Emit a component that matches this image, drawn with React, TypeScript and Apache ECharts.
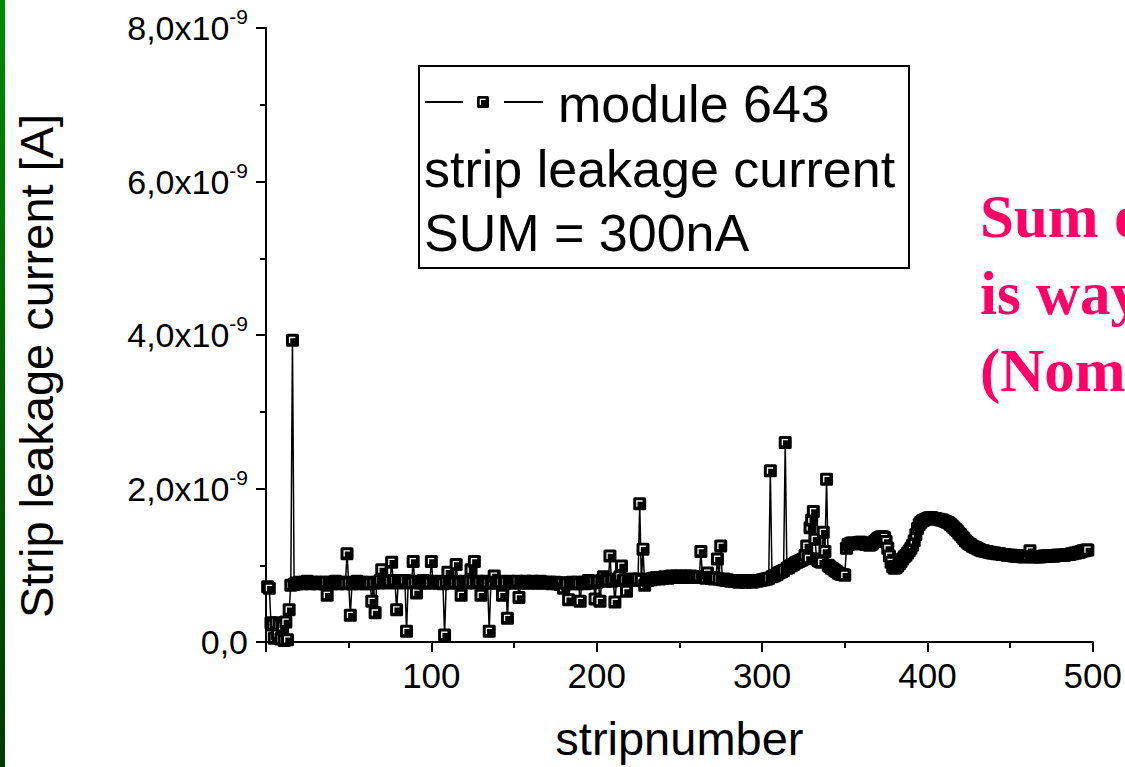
import React, { useEffect, useRef } from "react";
import * as echarts from "echarts";

// Strip leakage current of module 643, in units of 1e-9 A, strips 1..497
const currentNA: number[] = [
  0.72, 0.70, 0.25, 0.22, 0.05, 0.25, 0.10, 0.22, 0.04, 0.20,
  0.02, 0.26, 0.03, 0.42, 0.74, 3.93, 0.75, 0.77, 0.76, 0.78,
  0.77, 0.76, 0.78, 0.77, 0.79, 0.77, 0.76, 0.78, 0.77, 0.78,
  0.76, 0.77, 0.78, 0.77, 0.76, 0.78, 0.61, 0.77, 0.78, 0.76,
  0.77, 0.79, 0.77, 0.76, 0.78, 0.77, 0.78, 0.76, 1.15, 0.77,
  0.35, 0.76, 0.78, 0.77, 0.79, 0.76, 0.77, 0.78, 0.77, 0.76,
  0.78, 0.77, 0.76, 0.53, 0.77, 0.38, 0.78, 0.77, 0.80, 0.94,
  0.79, 0.78, 0.80, 0.77, 0.79, 1.04, 0.78, 0.80, 0.42, 0.78,
  0.77, 0.79, 0.78, 0.80, 0.14, 0.78, 0.79, 0.77, 1.05, 0.78,
  0.64, 0.79, 0.77, 0.78, 0.80, 0.77, 0.78, 0.79, 0.77, 1.05,
  0.78, 0.77, 0.79, 0.78, 0.77, 0.78, 0.76, 0.09, 0.78, 0.91,
  0.77, 0.78, 0.79, 0.77, 1.01, 0.78, 0.77, 0.61, 0.78, 0.79,
  0.77, 0.78, 0.79, 0.94, 0.78, 1.05, 0.77, 0.79, 0.78, 0.61,
  0.77, 0.78, 0.79, 0.77, 0.14, 0.78, 0.77, 0.86, 0.78, 0.77,
  0.79, 0.78, 0.61, 0.77, 0.78, 0.31, 0.79, 0.77, 0.78, 0.77,
  0.78, 0.79, 0.58, 0.77, 0.78, 0.77, 0.79, 0.78, 0.77, 0.78,
  0.79, 0.77, 0.78, 0.77, 0.78, 0.79, 0.77, 0.78, 0.77, 0.78,
  0.77, 0.78, 0.76, 0.77, 0.78, 0.76, 0.77, 0.75, 0.77, 0.70,
  0.77, 0.76, 0.55, 0.77, 0.78, 0.76, 0.77, 0.78, 0.76, 0.53,
  0.77, 0.78, 0.76, 0.77, 0.80, 0.78, 0.77, 0.79, 0.56, 0.78,
  0.79, 0.53, 0.80, 0.85, 0.79, 0.82, 0.80, 1.12, 0.79, 0.81,
  0.52, 0.80, 0.82, 0.85, 0.99, 0.80, 0.81, 0.66, 0.81, 0.80,
  0.82, 0.80, 0.81, 0.80, 0.82, 1.80, 0.80, 1.21, 0.74, 0.81,
  0.80, 0.82, 0.81, 0.83, 0.82, 0.84, 0.83, 0.82, 0.84, 0.83,
  0.85, 0.84, 0.83, 0.85, 0.86, 0.84, 0.85, 0.86, 0.84, 0.85,
  0.86, 0.85, 0.84, 0.86, 0.85, 0.84, 0.86, 0.85, 0.84, 0.85,
  0.84, 0.85, 1.18, 0.84, 0.85, 0.83, 0.90, 0.84, 0.83, 0.84,
  0.82, 0.83, 1.08, 0.82, 1.25, 0.81, 0.82, 0.80, 0.81, 0.80,
  0.79, 0.80, 0.79, 0.80, 0.79, 0.78, 0.79, 0.80, 0.79, 0.78,
  0.79, 0.80, 0.79, 0.78, 0.79, 0.80, 0.79, 0.80, 0.80, 0.81,
  0.81, 0.82, 0.82, 0.83, 2.23, 0.85, 0.86, 0.87, 0.88, 0.90,
  0.91, 0.92, 0.93, 2.60, 0.96, 0.97, 0.99, 1.00, 1.01, 1.03,
  1.04, 1.05, 1.06, 1.07, 1.08, 1.13, 1.25, 1.09, 1.49, 1.59,
  1.70, 1.34, 1.08, 1.06, 1.05, 1.04, 1.43, 1.18, 2.12, 1.00,
  0.98, 0.96, 0.95, 0.93, 0.92, 0.90, 0.89, 0.88, 0.88, 0.87,
  1.22, 1.27, 1.28, 1.29, 1.29, 1.28, 1.28, 1.29, 1.30, 1.30,
  1.29, 1.28, 1.27, 1.27, 1.26, 1.27, 1.29, 1.31, 1.33, 1.35,
  1.36, 1.37, 1.37, 1.36, 1.31, 1.22, 1.12, 1.04, 0.98, 0.96,
  0.97, 0.99, 1.02, 1.05, 1.08, 1.11, 1.13, 1.16, 1.19, 1.22,
  1.26, 1.32, 1.40, 1.48, 1.53, 1.56, 1.58, 1.59, 1.60, 1.61,
  1.62, 1.62, 1.62, 1.61, 1.61, 1.60, 1.60, 1.59, 1.59, 1.58,
  1.57, 1.56, 1.55, 1.53, 1.51, 1.49, 1.47, 1.45, 1.42, 1.40,
  1.37, 1.35, 1.32, 1.30, 1.28, 1.27, 1.25, 1.24, 1.23, 1.22,
  1.21, 1.20, 1.19, 1.19, 1.18, 1.18, 1.17, 1.17, 1.16, 1.16,
  1.16, 1.15, 1.15, 1.15, 1.14, 1.14, 1.14, 1.13, 1.13, 1.13,
  1.13, 1.12, 1.12, 1.12, 1.12, 1.12, 1.11, 1.11, 1.11, 1.12,
  1.12, 1.19, 1.11, 1.11, 1.11, 1.11, 1.11, 1.11, 1.11, 1.12,
  1.12, 1.12, 1.12, 1.12, 1.12, 1.12, 1.12, 1.13, 1.13, 1.13,
  1.13, 1.13, 1.13, 1.14, 1.14, 1.14, 1.15, 1.15, 1.16, 1.16,
  1.17, 1.17, 1.18, 1.19, 1.19, 1.20, 1.20,
];

const seriesName = "module 643";
const legendLines = ["strip leakage current", "SUM = 300nA"];
const noteLines = ["Sum of", "is way", "(Nom"];
const xTicks = { min: 0, max: 500, interval: 100 };
const yTicks = { min: 0, max: 8, interval: 2 };
const xTitle = "stripnumber";
const yTitle = "Strip leakage current [A]";

const points = currentNA.map((v, i) => [i + 1, v]);

const FONT = "'Liberation Sans', Arial, sans-serif";
const MARK = 13;

// Filled square with a small white corner highlight
function markerParts(cx: number, cy: number, s: number, z?: number) {
  const h = s / 2;
  const k = s * 0.22;
  const extra = z === undefined ? {} : { z };
  return [
    {
      type: "rect",
      shape: { x: cx - h, y: cy - h, width: s, height: s, r: 1.5 },
      style: { fill: "#000" },
      ...extra,
    },
    {
      type: "polyline",
      shape: {
        points: [
          [cx - k, cy + k],
          [cx - k, cy - k],
          [cx + k, cy - k],
        ],
      },
      style: { stroke: "#fff", lineWidth: 1.3, fill: null },
      ...(z === undefined ? {} : { z: z + 1 }),
    },
  ];
}

export default function App() {
  const ref = useRef<HTMLDivElement>(null);

  useEffect(() => {
    if (!ref.current) return;
    const chart = echarts.init(ref.current, undefined, { renderer: "svg" });

    const option: any = {
      animation: false,
      backgroundColor: "#fff",
      grid: { left: 266, right: 29, top: 28, bottom: 123, containLabel: false },
      xAxis: {
        type: "value",
        min: xTicks.min,
        max: xTicks.max,
        interval: xTicks.interval,
        name: xTitle,
        nameLocation: "middle",
        nameGap: 73,
        nameTextStyle: { fontFamily: FONT, fontSize: 47, color: "#000" },
        axisLine: { show: true, lineStyle: { color: "#000", width: 2 } },
        axisTick: { show: true, length: 10, lineStyle: { color: "#000", width: 2 } },
        minorTick: { show: true, splitNumber: 2, length: 6, lineStyle: { color: "#000", width: 2 } },
        splitLine: { show: false },
        axisLabel: {
          margin: 16,
          fontFamily: FONT,
          fontSize: 35,
          color: "#000",
          formatter: (v: number) => (v === 0 ? "" : String(v)),
        },
      },
      yAxis: {
        type: "value",
        min: yTicks.min,
        max: yTicks.max,
        interval: yTicks.interval,
        axisLine: { show: true, lineStyle: { color: "#000", width: 2 } },
        axisTick: { show: true, length: 10, lineStyle: { color: "#000", width: 2 } },
        minorTick: { show: true, splitNumber: 2, length: 6, lineStyle: { color: "#000", width: 2 } },
        splitLine: { show: false },
        axisLabel: {
          margin: 18,
          color: "#000",
          formatter: (v: number) =>
            v === 0
              ? "{a|0,0}"
              : `{a|${v.toFixed(1).replace(".", ",")}x10}{b|-9}`,
          rich: {
            a: { fontFamily: FONT, fontSize: 34, color: "#000", lineHeight: 40 },
            b: { fontFamily: FONT, fontSize: 21, color: "#000", verticalAlign: "top", lineHeight: 44 },
          },
        },
      },
      series: [
        {
          name: seriesName,
          type: "line",
          data: points,
          showSymbol: false,
          symbol: "none",
          lineStyle: { color: "#000", width: 1.5 },
          z: 2,
        },
        {
          name: seriesName,
          type: "custom",
          data: points,
          encode: { x: 0, y: 1 },
          z: 3,
          renderItem: (_params: any, api: any) => {
            const p = api.coord([api.value(0), api.value(1)]);
            return { type: "group", children: markerParts(p[0], p[1], MARK) };
          },
        },
      ],
      graphic: [
        // slide edge stripe
        {
          type: "rect",
          shape: { x: 0, y: 0, width: 5, height: 767 },
          style: {
            fill: new echarts.graphic.LinearGradient(0, 0, 0, 1, [
              { offset: 0, color: "#008a00" },
              { offset: 1, color: "#003a00" },
            ]),
          },
          silent: true,
        },
        // legend box
        {
          type: "rect",
          shape: { x: 419, y: 66, width: 490, height: 202 },
          style: { fill: "#fff", stroke: "#000", lineWidth: 2 },
          z: 10,
        },
        {
          type: "line",
          shape: { x1: 425, y1: 102, x2: 463, y2: 102 },
          style: { stroke: "#000", lineWidth: 2 },
          z: 11,
        },
        {
          type: "line",
          shape: { x1: 504, y1: 102, x2: 543, y2: 102 },
          style: { stroke: "#000", lineWidth: 2 },
          z: 11,
        },
        ...markerParts(483, 102, 12, 12),
        {
          type: "text",
          x: 558,
          y: 104,
          style: {
            text: seriesName,
            fontFamily: FONT,
            fontSize: 52,
            fill: "#000",
            textVerticalAlign: "middle",
          },
          z: 11,
        },
        ...legendLines.map((t, i) => ({
          type: "text",
          x: 424,
          y: 169 + i * 64,
          style: {
            text: t,
            fontFamily: FONT,
            fontSize: 52,
            fill: "#000",
            textVerticalAlign: "middle",
          },
          z: 11,
        })),
        // y-axis title
        {
          type: "text",
          x: 36,
          y: 366,
          rotation: Math.PI / 2,
          style: {
            text: yTitle,
            fontFamily: FONT,
            fontSize: 47,
            fill: "#000",
            textAlign: "center",
            textVerticalAlign: "middle",
          },
        },
        // note on the right
        ...noteLines.map((t, i) => ({
          type: "text",
          x: 980,
          y: 216 + i * 77,
          style: {
            text: t,
            fontFamily: "'Liberation Serif', 'Times New Roman', serif",
            fontWeight: "bold",
            fontSize: 61,
            fill: "#ff0066",
            textVerticalAlign: "middle",
          },
        })),
      ],
    };

    chart.setOption(option);
    return () => chart.dispose();
  }, []);

  return (
    <div
      ref={ref}
      style={{ position: "fixed", left: 0, top: 0, width: 1125, height: 767, background: "#fff" }}
    />
  );
}
